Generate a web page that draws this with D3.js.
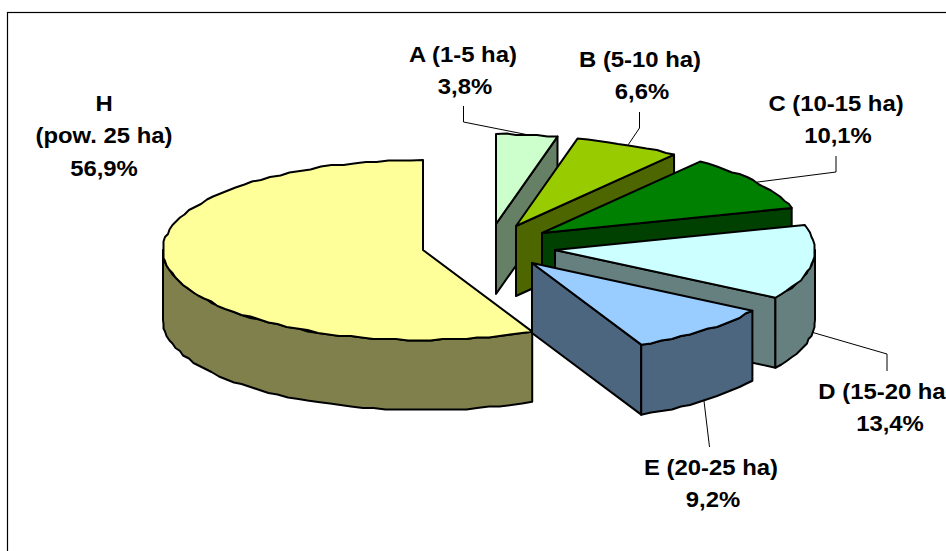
<!DOCTYPE html>
<html><head><meta charset="utf-8">
<style>html,body{margin:0;padding:0;background:#fff;overflow:hidden}svg{display:block}</style>
<script src="https://cdn.jsdelivr.net/npm/d3@7"></script></head>
<body><svg id="c" width="946" height="551"></svg>
<script>
const categories = ["A (1-5 ha)","B (5-10 ha)","C (10-15 ha)","D (15-20 ha","E (20-25 ha)","H|(pow. 25 ha)"];
const values = [3.8,6.6,10.1,13.4,9.2,56.9];
const topColors = ["#CCFFCC","#99CC00","#008000","#CCFFFF","#99CCFF","#FFFF99"];
const wallColors = ["#668066","#4D6600","#004000","#668080","#4D6680","#80804D"];
const apexX = [496,516,542,555,532,423];
const apexY = [224,226,233,250,263,250];
const labelX = [463,640,836,882,711,104];
const labelBase = [61.5,66.5,110.5,398.5,474.5,111];
const pctShift = [2,2,2,8,2,0];
const leaderX = [463.5,639.5,836,887,709.5];
const elbowY = [122,128,172,354,null];
const leaderEndY = [106,112,156,371,447];
const rimFace = [0,0,0,1,1];
const drawOrder = [0,1,2,3,5,4];

const svg = d3.select("#c");
const W = 946, H = 551, rx = 260, ry = 90, depth = 70, lineGap = 32.4, fontSize = 22, stretch = 1.085, grid = 1.5;

svg.append("rect").attr("x",7.5).attr("y",12.5).attr("width",W+20).attr("height",H+20)
   .attr("fill","#fff").attr("stroke","#000").attr("stroke-width",1.2);

const arcs = d3.pie().sort(null).value(d=>d)(values);
const pt = (i,a,dz=0)=>[apexX[i]+rx*Math.sin(a), apexY[i]-ry*Math.cos(a)+dz];
const snap = v=>Math.round(v/grid)*grid;
// rim polyline on a coarse device grid, as in the metafile rendering; the slice corners stay exact
const arcPts = (i,a0,a1,dz=0)=>{
  const n = Math.max(2,Math.ceil((a1-a0)/(Math.PI/70)));
  return d3.range(n+1).map(k=>{
    const p = pt(i,a0+(a1-a0)*k/n,dz);
    return (k===0||k===n)?p:[snap(p[0]),snap(p[1])];
  });
};
const line = d3.line();
const poly = p=>line(p)+"Z";
const style = (s,fill)=>s.attr("fill",fill).attr("stroke","#000").attr("stroke-width",2).attr("stroke-linejoin","round");

drawOrder.forEach(i=>{
  const {startAngle:a0,endAngle:a1} = arcs[i];
  const g = svg.append("g");
  const c = [apexX[i],apexY[i]];
  const cut = a=>[c,pt(i,a),pt(i,a,depth),[c[0],c[1]+depth]];
  if(Math.sin(a1)>1e-6) style(g.append("path").attr("d",poly(cut(a1))),wallColors[i]);
  if(Math.sin(a0)<-1e-6) style(g.append("path").attr("d",poly(cut(a0))),wallColors[i]);
  const lo = Math.max(a0,Math.PI/2), hi = Math.min(a1,3*Math.PI/2);
  if(hi>lo){
    const u = arcPts(i,lo,hi), d = arcPts(i,lo,hi,depth).reverse();
    style(g.append("path").attr("d",poly(u.concat(d))),wallColors[i]);
  }
  style(g.append("path").attr("d",poly([c].concat(arcPts(i,a0,a1)))),topColors[i]);
});

// leader lines: rim point at the slice's mid-angle -> elbow -> end under the label
leaderX.forEach((x,i)=>{
  const mid = (arcs[i].startAngle+arcs[i].endAngle)/2;
  const p = pt(i,mid,rimFace[i]?depth:0);
  const pts = elbowY[i]===null ? [p,[x,leaderEndY[i]]] : [p,[x,elbowY[i]],[x,leaderEndY[i]]];
  svg.append("path").attr("d",line(pts)).attr("fill","none").attr("stroke","#000").attr("stroke-width",1);
});

// labels
const fmt = v=>v.toFixed(1).replace(".",",")+"%";
categories.forEach((name,i)=>{
  const lines = name.split("|").concat(fmt(values[i]));
  lines.forEach((s,k)=>{
    const x = labelX[i]+(k===lines.length-1?pctShift[i]:0);
    svg.append("text").attr("text-anchor","middle")
      .attr("transform",`translate(${x},${labelBase[i]+k*lineGap}) scale(${stretch},1)`)
      .attr("font-family","'Liberation Sans',Arial,sans-serif").attr("font-weight","bold")
      .attr("font-size",fontSize).attr("fill","#000").text(s);
  });
});
</script></body></html>
